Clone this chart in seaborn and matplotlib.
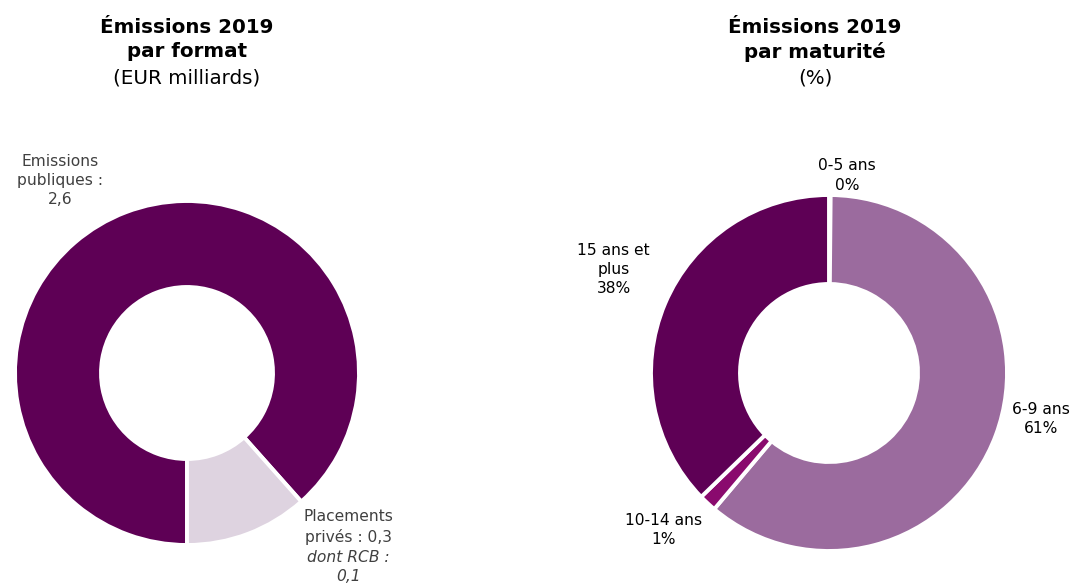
import matplotlib
matplotlib.use("Agg")
import matplotlib.pyplot as plt
import seaborn as sns

sns.set_theme(style="white")
plt.rcParams['font.family'] = ['DejaVu Sans']

# left donut: issuance by format (EUR bn)
format_labels = ["Emissions\npubliques :\n2,6", "Placements\nprivés : 0,3"]
format_values = [2.6, 0.34]
format_colors = ["#5E0055", "#DED3E0"]

# right donut: issuance by maturity (%)
maturity_labels = ["0-5 ans\n0%", "6-9 ans\n61%", "10-14 ans\n1%", "15 ans et\nplus\n38%"]
maturity_values = [0.15, 61, 1.6, 37.25]
maturity_colors = ["#9B6B9E", "#9B6B9E", "#8A0A6E", "#5E0055"]

W, H = 1076, 585
fig = plt.figure(figsize=(W / 100, H / 100), dpi=100)

def px_axes(x0, y0, size):
    return fig.add_axes([x0 / W, (H - y0 - size) / H, size / W, size / H])

wedge = dict(width=0.5, edgecolor="white", linewidth=2.8)

ax1 = px_axes(15, 201, 344)
ax1.pie(format_values, colors=format_colors, startangle=-90, counterclock=False,
        radius=1, wedgeprops=wedge)
ax1.set_xlim(-1, 1)
ax1.set_ylim(-1, 1)
ax1.set_aspect("equal")
ax1.axis("off")

grey = "#404040"
ax1.text(-0.74, 1.12, format_labels[0], ha="center", va="center", fontsize=11.2,
         color=grey, linespacing=1.35, clip_on=False)
ax1.text(0.94, -0.895, format_labels[1], ha="center", va="center", fontsize=11.2,
         color=grey, linespacing=1.35, clip_on=False)
ax1.text(0.94, -1.128, "dont RCB :\n0,1", ha="center", va="center", fontsize=11.2,
         color=grey, style="italic", linespacing=1.35, clip_on=False)

ax2 = px_axes(651, 195, 356)
ax2.pie(maturity_values, colors=maturity_colors, startangle=90, counterclock=False,
        radius=1, wedgeprops=wedge)
ax2.set_xlim(-1, 1)
ax2.set_ylim(-1, 1)
ax2.set_aspect("equal")
ax2.axis("off")

label_pos = [(0.10, 1.11), (1.19, -0.26), (-0.93, -0.88), (-1.21, 0.58)]
for txt, (x, y) in zip(maturity_labels, label_pos):
    ax2.text(x, y, txt, ha="center", va="center", fontsize=11.2, color="black",
             linespacing=1.35, clip_on=False)

# titles
for xc, bold, sub in [(187, "Émissions 2019\npar format", "(EUR milliards)"),
                      (815, "Émissions 2019\npar maturité", "(%)")]:
    fig.text(xc / W, 1 - 18 / H, bold, ha="center", va="top", fontsize=14.3,
             fontweight="bold", color="black", linespacing=1.32)
    fig.text(xc / W, 1 - 68 / H, sub, ha="center", va="top", fontsize=14.3,
             color="black")

fig.savefig("out.png", dpi=100)
